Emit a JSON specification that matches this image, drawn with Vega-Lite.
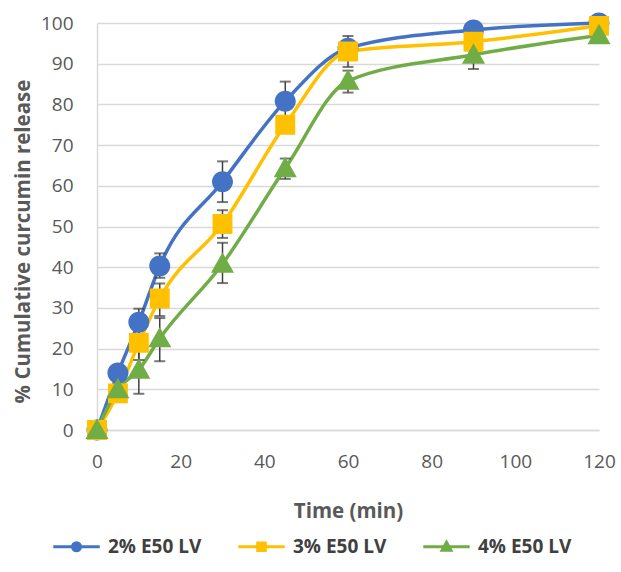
{
  "$schema": "https://vega.github.io/schema/vega-lite/v6.json",
  "autosize": {"type": "none"},
  "width": 502,
  "height": 407,
  "padding": {"left": 97, "top": 23, "right": 22, "bottom": 142},
  "background": "white",
  "config": {
    "font": "Open Sans",
    "view": {"stroke": null},
    "axis": {"labelColor": "#595959", "titleColor": "#595959", "labelFontSize": 19, "titleFontSize": 20.5, "titleFontWeight": "bold", "ticks": false, "labelFlush": false, "domainColor": "#d9d9d9", "domainWidth": 1.5, "gridColor": "#d9d9d9", "gridWidth": 1.5},
    "legend": {"symbolStrokeWidth": 3}
  },
  "data": {
    "values": [
      {"t": 0, "series": "2% E50 LV", "v": 0, "lo": 0, "hi": 0},
      {"t": 5, "series": "2% E50 LV", "v": 14, "lo": 12.5, "hi": 15.5},
      {"t": 10, "series": "2% E50 LV", "v": 26.5, "lo": 23.3, "hi": 29.8},
      {"t": 15, "series": "2% E50 LV", "v": 40.3, "lo": 37.4, "hi": 43.4},
      {"t": 30, "series": "2% E50 LV", "v": 61, "lo": 56, "hi": 66},
      {"t": 45, "series": "2% E50 LV", "v": 80.8, "lo": 76, "hi": 85.6},
      {"t": 60, "series": "2% E50 LV", "v": 93.8, "lo": 92, "hi": 95.5},
      {"t": 90, "series": "2% E50 LV", "v": 98.3, "lo": 97.5, "hi": 99},
      {"t": 120, "series": "2% E50 LV", "v": 100, "lo": 99.5, "hi": 100.5},
      {"t": 0, "series": "3% E50 LV", "v": 0, "lo": 0, "hi": 0},
      {"t": 5, "series": "3% E50 LV", "v": 9, "lo": 8, "hi": 10},
      {"t": 10, "series": "3% E50 LV", "v": 21.4, "lo": 17.2, "hi": 25.8},
      {"t": 15, "series": "3% E50 LV", "v": 32.3, "lo": 28, "hi": 36},
      {"t": 30, "series": "3% E50 LV", "v": 50.6, "lo": 47.2, "hi": 54},
      {"t": 45, "series": "3% E50 LV", "v": 75, "lo": 73, "hi": 77},
      {"t": 60, "series": "3% E50 LV", "v": 93, "lo": 89.2, "hi": 96.8},
      {"t": 90, "series": "3% E50 LV", "v": 95.4, "lo": 94.5, "hi": 96.3},
      {"t": 120, "series": "3% E50 LV", "v": 99.3, "lo": 98.5, "hi": 100},
      {"t": 0, "series": "4% E50 LV", "v": 0, "lo": 0, "hi": 0},
      {"t": 5, "series": "4% E50 LV", "v": 10, "lo": 9, "hi": 11},
      {"t": 10, "series": "4% E50 LV", "v": 14.8, "lo": 8.9, "hi": 20.1},
      {"t": 15, "series": "4% E50 LV", "v": 22.5, "lo": 16.9, "hi": 27.5},
      {"t": 30, "series": "4% E50 LV", "v": 40.8, "lo": 36.1, "hi": 46},
      {"t": 45, "series": "4% E50 LV", "v": 64.3, "lo": 61.7, "hi": 66.7},
      {"t": 60, "series": "4% E50 LV", "v": 85.8, "lo": 82.9, "hi": 88.3},
      {"t": 90, "series": "4% E50 LV", "v": 92.2, "lo": 88.7, "hi": 95.3},
      {"t": 120, "series": "4% E50 LV", "v": 97, "lo": 96, "hi": 98}
    ]
  },
  "resolve": {"legend": {"color": "independent", "shape": "independent", "stroke": "independent"}},
  "layer": [
    {
      "mark": {"type": "line", "interpolate": "monotone", "strokeWidth": 3.5},
      "encoding": {
        "x": {"field": "t", "type": "quantitative", "scale": {"domain": [0, 120], "nice": false}, "axis": {"values": [0, 20, 40, 60, 80, 100, 120], "grid": false, "labelPadding": 22, "titlePadding": 30}, "title": "Time (min)"},
        "y": {"field": "v", "type": "quantitative", "scale": {"domain": [0, 100], "nice": false}, "axis": {"values": [0, 10, 20, 30, 40, 50, 60, 70, 80, 90, 100], "labelPadding": 24, "titlePadding": 7, "titleY": 218}, "title": "% Cumulative curcumin release"},
        "color": {"field": "series", "type": "nominal", "scale": {"domain": ["2% E50 LV", "3% E50 LV", "4% E50 LV"], "range": ["#4472C4", "#FFC000", "#70AD47"]}, "legend": null}
      }
    },
    {
      "mark": {"type": "errorbar", "color": "#404040", "thickness": 1.5, "ticks": {"size": 11, "thickness": 2, "color": "#404040"}},
      "encoding": {
        "x": {"field": "t", "type": "quantitative", "title": "Time (min)"},
        "y": {"field": "lo", "type": "quantitative", "title": "% Cumulative curcumin release"},
        "y2": {"field": "hi"}
      }
    },
    {
      "mark": {"type": "point", "filled": true, "opacity": 1, "size": 440, "strokeWidth": 0},
      "encoding": {
        "x": {"field": "t", "type": "quantitative", "title": "Time (min)"},
        "y": {"field": "v", "type": "quantitative", "title": "% Cumulative curcumin release"},
        "color": {"field": "series", "type": "nominal", "scale": {"domain": ["2% E50 LV", "3% E50 LV", "4% E50 LV"], "range": ["#4472C4", "#FFC000", "#70AD47"]},
          "legend": {"orient": "none", "legendX": -30, "legendY": 514, "direction": "horizontal", "title": null, "symbolSize": 64, "symbolStrokeWidth": 3, "labelFontSize": 19, "labelFontWeight": "bold", "labelColor": "#404040", "labelOffset": 22, "columnPadding": 30,
            "encode": {"symbols": {"strokeWidth": {"value": 3}}}}},
        "stroke": {"field": "series", "type": "nominal", "scale": {"domain": ["2% E50 LV", "3% E50 LV", "4% E50 LV"], "range": ["#4472C4", "#FFC000", "#70AD47"]},
          "legend": {"orient": "none", "legendX": -30, "legendY": 514, "direction": "horizontal", "title": null, "symbolSize": 64, "symbolStrokeWidth": 3, "labelFontSize": 19, "labelFontWeight": "bold", "labelColor": "#404040", "labelOffset": 22, "columnPadding": 30,
            "encode": {"symbols": {"strokeWidth": {"value": 3}}}}},
        "shape": {"field": "series", "type": "nominal", "scale": {"domain": ["2% E50 LV", "3% E50 LV", "4% E50 LV"], "range": ["M-5.8,0H5.8M1,0A1,1 0 1,1 -1,0A1,1 0 1,1 1,0Z", "M-5.8,0H5.8M-0.95,-0.95H0.95V0.95H-0.95Z", "M-5.8,0H5.8M0,-1.1L1.1,0.85H-1.1Z"]},
          "legend": {"orient": "none", "legendX": -30, "legendY": 514, "direction": "horizontal", "title": null, "symbolSize": 64, "symbolStrokeWidth": 3, "labelFontSize": 19, "labelFontWeight": "bold", "labelColor": "#404040", "labelOffset": 22, "columnPadding": 30,
            "encode": {"symbols": {"strokeWidth": {"value": 3}}}}}
      }
    }
  ]
}
